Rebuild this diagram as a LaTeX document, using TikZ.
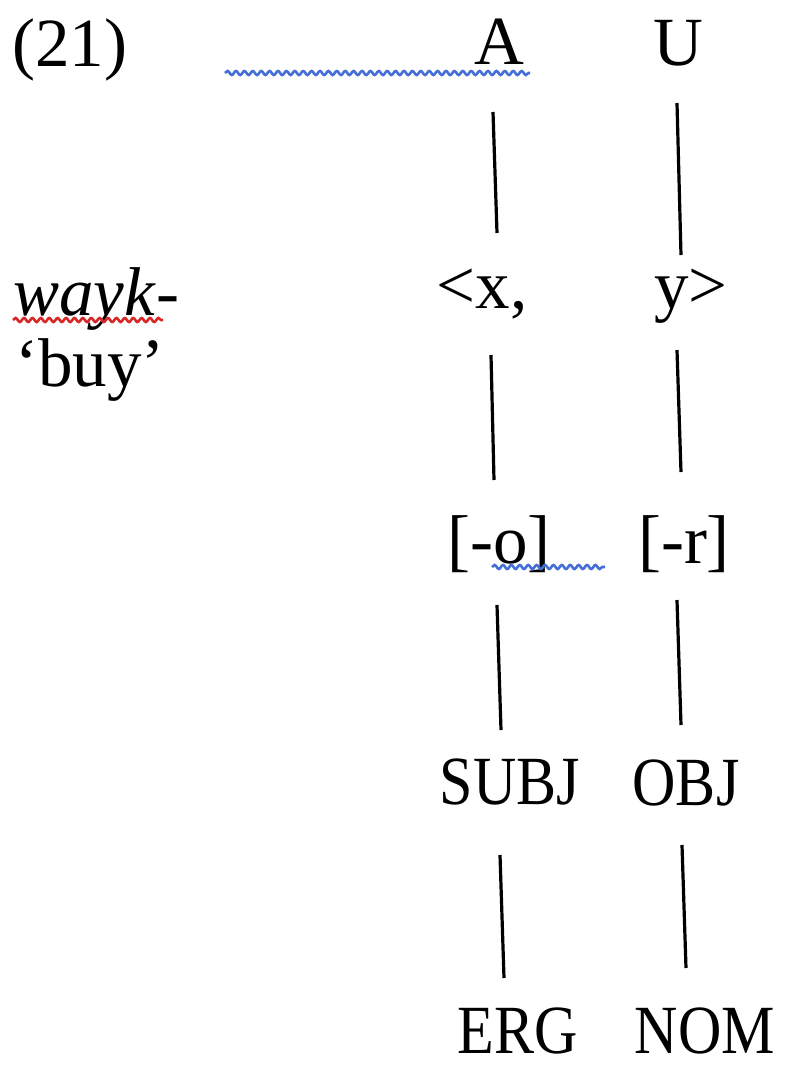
\documentclass[tikz,border=0pt]{standalone}
\usepackage{fontspec}
\setmainfont{Liberation Serif}
\newfontfamily\capsfont[FakeStretch=0.87]{Liberation Serif}
\usetikzlibrary{calc,decorations.pathmorphing}
\definecolor{spellblue}{RGB}{70,110,215}
\definecolor{spellred}{RGB}{215,40,40}

\begin{document}
\begin{tikzpicture}[
  x=0.5pt, y=-0.5pt,
  word/.style={inner sep=0pt, anchor=base, font=\fontsize{34.5}{40}\selectfont},
  role/.style={inner sep=0pt, anchor=base, font=\fontsize{34.5}{40}\selectfont\capsfont},
  link/.style={line width=1.6pt},
  squiggle/.style={decorate, decoration={snake, amplitude=1pt, segment length=4.2pt},
                   line width=1.3pt},
]
\useasboundingbox (0,0) rectangle (789,1067);

% example number and the verb
\node[word, anchor=base west] (ex) at (12,66) {(21)};
\node[word, anchor=base west] (verb) at (13,315) {\textit{wayk}-};
\node[word, anchor=base west] (gloss) at (15,386) {‘buy’};

% macroroles, arguments, features
\node[word] (agt) at (499,64) {A};
\node[word] (und) at (678,65) {U};
\node[word] (argx) at (482,308) {<x,};
\node[word] (argy) at (691,308) {y>};
\node[word] (feato) at (499,563) {[-o]};
\node[word] (featr) at (684,563) {[-r]};

% functions and cases
\node[role] (subj) at (510,804) {SUBJ};
\node[role] (obj) at (686,805) {OBJ};
\node[role] (erg) at (518,1053) {ERG};
\node[role] (nom) at (705,1053) {NOM};

% linking lines
\draw[link] ($(agt.base)+(-6,48)$) -- ($(argx.base)+(15,-75)$);
\draw[link] ($(und.base)+(-1,38)$) -- ($(argy.base)+(-10,-53)$);
\draw[link] ($(argx.base)+(9,47)$) -- ($(feato.base)+(-5,-83)$);
\draw[link] ($(argy.base)+(-14,42)$) -- ($(featr.base)+(-3,-91)$);
\draw[link] ($(feato.base)+(-2,42)$) -- ($(subj.base)+(-9,-74)$);
\draw[link] ($(featr.base)+(-7,37)$) -- ($(obj.base)+(-5,-80)$);
\draw[link] ($(subj.base)+(-10,51)$) -- ($(erg.base)+(-14,-75)$);
\draw[link] ($(obj.base)+(-4,40)$) -- ($(nom.base)+(-19,-85)$);

% spell-check marks
\draw[squiggle, spellblue] ($(agt.base)+(-274,9)$) -- ($(agt.base)+(31,9)$);
\draw[squiggle, spellred] ($(verb.base west)+(0,5)$) -- ($(verb.base west)+(150,5)$);
\draw[squiggle, spellblue] ($(feato.base)+(-7,4)$) -- ($(feato.base)+(106,4)$);
\end{tikzpicture}
\end{document}
